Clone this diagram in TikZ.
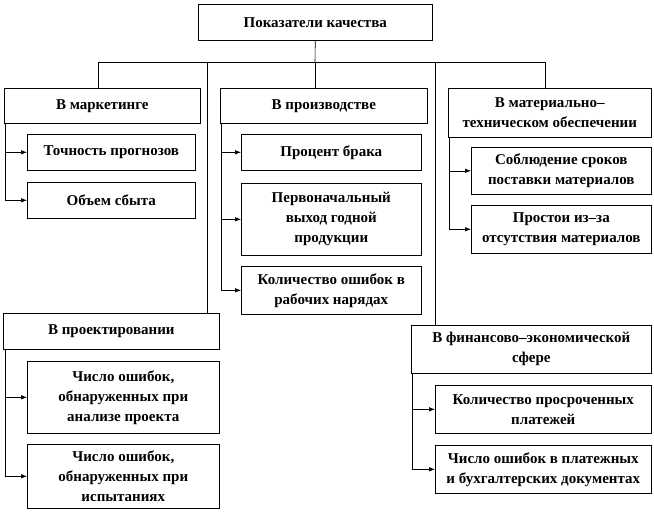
\documentclass[tikz,border=0pt]{standalone}
\usepackage{fontspec}
\setmainfont{Liberation Serif}
\usetikzlibrary{arrows.meta}
\tikzset{
  box/.style={draw, line width=0.6pt, align=center, inner sep=1pt, anchor=north west,
    font=\fontsize{15}{20}\selectfont\bfseries},
  ln/.style={line width=0.6pt},
  arr/.style={line width=0.6pt, -{Latex[length=6pt,width=4.5pt]}}
}
\newcommand\bx[6]{\node[box, minimum width={#4-#2}, minimum height={#5-#3}] (#1) at (#2,#3) {#6};}
\begin{document}
\begin{tikzpicture}[x=1pt,y=-1pt]
\useasboundingbox (0,0) rectangle (654,520);
\bx{top}{198}{4}{432}{40}{Показатели качества}
\bx{mk}{4}{88}{200}{123}{В маркетинге}
\bx{pr}{220}{88}{427}{123}{В производстве}
\bx{mat}{448}{88}{651}{137}{В материально–\\техническом обеспечении}
\bx{tp}{27}{134}{195}{170}{Точность прогнозов}
\bx{ob}{27}{182}{195}{218}{Объем сбыта}
\bx{pb}{241}{134}{421}{170}{Процент брака}
\bx{pv}{241}{183}{421}{255}{Первоначальный\\выход годной\\продукции}
\bx{ko}{241}{266}{421}{314}{Количество ошибок в\\рабочих нарядах}
\bx{sob}{471}{147}{651}{194}{Соблюдение сроков\\поставки материалов}
\bx{prs}{471}{205}{651}{253}{Простои из–за\\отсутствия материалов}
\bx{pj}{3}{313}{219}{349}{В проектировании}
\bx{p1}{27}{361}{219}{433}{Число ошибок,\\обнаруженных при\\анализе проекта}
\bx{p2}{27}{444}{219}{508}{Число ошибок,\\обнаруженных при\\испытаниях}
\bx{fn}{411}{325}{651}{373}{В финансово–экономической\\сфере}
\bx{f1}{435}{385}{651}{433}{Количество просроченных\\платежей}
\bx{f2}{435}{445}{651}{493}{Число ошибок в платежных\\и бухгалтерских  документах}
% trunk
\coordinate (j) at (315,62);
\coordinate (hL) at (98,62);
\coordinate (hR) at (545,62);
\coordinate (hP) at (207,62);
\coordinate (hF) at (435,62);
\draw[ln] (top.south) -- (j);
\draw[ln] (hL) -- (hR);
\draw[ln] (hL) -- (hL |- mk.north);
\draw[ln] (j) -- (j |- pr.north);
\draw[ln] (hR) -- (hR |- mat.north);
\draw[ln] (hP) -- (hP |- pj.north);
\draw[ln] (hF) -- (hF |- fn.north);
% branch lines
\coordinate (mkv) at (5,123);
\draw[arr] (mkv) |- (tp.west);
\draw[arr] (mkv) |- (ob.west);
\coordinate (prv) at (221,123);
\draw[arr] (prv) |- (pb.west);
\draw[arr] (prv) |- (pv.west);
\draw[arr] (prv) |- (ko.west);
\coordinate (matv) at (449,137);
\draw[arr] (matv) |- (sob.west);
\draw[arr] (matv) |- (prs.west);
\coordinate (pjv) at (5,349);
\draw[arr] (pjv) |- (p1.west);
\draw[arr] (pjv) |- (p2.west);
\coordinate (fnv) at (412,373);
\draw[arr] (fnv) |- (f1.west);
\draw[arr] (fnv) |- (f2.west);
\end{tikzpicture}
\end{document}
